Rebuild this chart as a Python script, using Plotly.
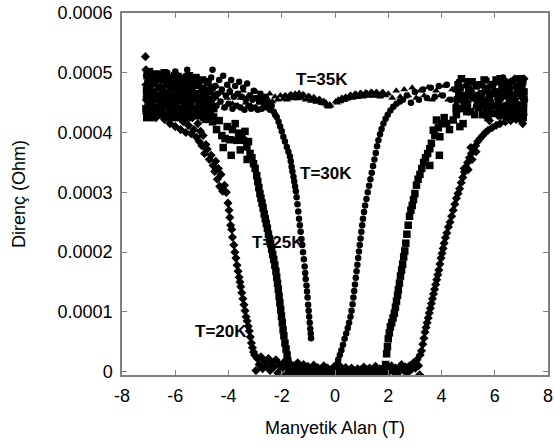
import plotly.graph_objects as go

UNIT = 1e-4

# T = 20 K (diamonds): (field T, resistance x1e-4 Ohm)
pts20 = [
    (-7.12, 5.27), (-7.10, 5.05), (-7.10, 4.80), (-7.09, 4.55), (-7.08, 4.32), (-7.06, 4.95),
    (-7.04, 4.68), (-7.02, 4.40), (-6.98, 4.85), (-6.95, 4.58), (-6.92, 4.30), (-6.88, 4.98),
    (-6.85, 4.70), (-6.80, 4.45), (-6.76, 4.88), (-6.72, 4.25), (-6.68, 4.62), (-6.64, 4.95),
    (-6.60, 4.38), (-6.55, 4.75), (-6.50, 4.52), (-6.45, 4.90), (-6.40, 4.22), (-6.35, 4.65),
    (-6.30, 4.42), (-6.25, 4.85), (-6.20, 4.15), (-6.15, 4.55), (-6.10, 4.35), (-6.05, 4.78),
    (-6.00, 4.10), (-5.95, 4.48), (-5.90, 4.28), (-5.85, 4.70), (-5.80, 4.05), (-5.75, 4.40),
    (-5.70, 4.18), (-5.65, 4.58), (-5.60, 4.00), (-5.55, 4.32), (-5.50, 4.12), (-5.45, 4.48),
    (-5.40, 3.98), (-5.35, 4.25), (-5.30, 4.05), (-5.25, 4.38), (-5.20, 3.92), (-5.15, 4.15),
    (-5.10, 3.85), (-5.05, 4.02), (-5.00, 3.78), (-4.95, 3.95), (-4.90, 3.65), (-4.85, 3.80),
    (-4.80, 3.72), (-4.72, 3.55), (-4.65, 3.62), (-4.58, 3.45), (-4.52, 3.35), (-4.48, 3.52),
    (-4.42, 3.22), (-4.38, 3.40), (-4.33, 3.10), (-4.28, 3.30), (-4.22, 3.02), (-4.15, 3.12),
    (-4.08, 3.00), (-4.02, 2.82), (-3.98, 2.70), (-3.95, 2.58), (-3.92, 2.45), (-3.88, 2.38),
    (-3.85, 2.25), (-3.80, 2.12), (-3.76, 2.00), (-3.72, 1.90), (-3.68, 1.78), (-3.64, 1.68),
    (-3.60, 1.58), (-3.57, 1.50), (-3.54, 1.42), (-3.50, 1.32), (-3.46, 1.22), (-3.42, 1.12),
    (-3.38, 1.02), (-3.34, 0.92), (-3.30, 0.85), (-3.26, 0.76), (-3.22, 0.68), (-3.18, 0.58),
    (-3.14, 0.48), (-3.10, 0.40), (-3.06, 0.33), (-3.02, 0.28), (-2.97, 0.02),
    (-2.92, 0.22), (-2.85, 0.12), (-2.78, 0.25), (-2.72, 0.05), (-2.65, 0.18), (-2.58, 0.10),
    (-2.50, 0.22), (-2.44, 0.02), (-2.38, 0.15), (-2.30, 0.08), (-2.22, 0.20), (-2.15, -0.02),
    (-2.08, 0.12), (-2.00, 0.05), (-1.92, 0.16), (-1.85, -0.05), (-1.78, 0.08), (-1.70, 0.14),
    (-1.62, 0.00), (-1.55, 0.10), (-1.48, 0.05), (-1.40, 0.15), (-1.32, -0.04), (-1.25, 0.07),
    (-1.18, 0.12), (-1.10, 0.02), (-1.02, 0.09), (-0.95, -0.06), (-0.88, 0.05), (-0.80, 0.11),
    (-0.72, 0.01), (-0.65, 0.07), (-0.58, -0.05), (-0.50, 0.04), (-0.42, 0.10), (-0.35, 0.00),
    (-0.28, 0.06), (-0.20, -0.04), (-0.12, 0.03), (-0.05, 0.08), (0.02, -0.02), (0.10, 0.05),
    (0.18, 0.10), (0.25, -0.06), (0.32, 0.03), (0.40, 0.07), (0.48, -0.08), (0.55, 0.02),
    (0.62, 0.06), (0.70, -0.07), (0.78, 0.00), (0.85, 0.05), (0.92, -0.05), (1.00, 0.03),
    (1.08, 0.08), (1.15, -0.04), (1.22, 0.02), (1.30, 0.06), (1.38, -0.03), (1.45, 0.04),
    (1.52, 0.09), (1.60, 0.00), (1.68, 0.05), (1.75, -0.04), (1.82, 0.03), (1.90, 0.08),
    (1.98, -0.02), (2.05, 0.04), (2.12, 0.10), (2.20, 0.00), (2.28, 0.06), (2.35, -0.03),
    (2.42, 0.05), (2.50, 0.12), (2.58, 0.02), (2.65, 0.08), (2.72, -0.02), (2.80, 0.10),
    (2.88, 0.04), (2.95, 0.15), (3.02, 0.06), (3.08, 0.20), (3.14, 0.10), (3.18, -0.05),
    (3.20, 0.28), (3.25, 0.35), (3.30, 0.46), (3.34, 0.56), (3.38, 0.66), (3.42, 0.74),
    (3.46, 0.82), (3.50, 0.90), (3.54, 0.98), (3.58, 1.06), (3.62, 1.14), (3.66, 1.22),
    (3.70, 1.30), (3.74, 1.38), (3.78, 1.46), (3.82, 1.54), (3.86, 1.62), (3.90, 1.70),
    (3.94, 1.80), (3.98, 1.90), (4.02, 1.98), (4.06, 2.06), (4.10, 2.15), (4.15, 2.24),
    (4.20, 2.32), (4.26, 2.42), (4.32, 2.50), (4.38, 2.60), (4.44, 2.70), (4.50, 2.80),
    (4.56, 2.90), (4.62, 2.98), (4.68, 3.06), (4.74, 3.16), (4.80, 3.25), (4.86, 3.34),
    (4.92, 3.42), (4.98, 3.50), (5.05, 3.58), (5.12, 3.65), (5.20, 3.72), (5.28, 3.78),
    (5.36, 3.85), (5.45, 3.90), (5.55, 3.95), (5.65, 4.00), (5.75, 4.04), (5.90, 4.08),
    (6.05, 4.12), (6.20, 4.15), (6.40, 4.18), (6.60, 4.20), (6.80, 4.22), (7.00, 4.20),
    (7.05, 4.15), (4.85, 3.40), (5.00, 3.38), (5.15, 3.55), (5.30, 3.68), (5.10, 3.75),
    (5.60, 4.30), (5.70, 4.55), (5.80, 4.20), (5.90, 4.45), (6.00, 4.70), (6.10, 4.30),
    (6.20, 4.55), (6.30, 4.82), (6.40, 4.35), (6.50, 4.60), (6.60, 4.85), (6.70, 4.40),
    (6.80, 4.65), (6.90, 4.88), (7.00, 4.45), (7.05, 4.70), (7.08, 4.30), (7.10, 4.90),
    (7.10, 4.55), (6.95, 4.25), (6.85, 4.35), (6.75, 4.90), (6.55, 4.25), (6.35, 4.70),
    (6.15, 4.85), (5.95, 4.80), (5.75, 4.75),
]

# T = 25 K (squares)
pts25 = [
    (-7.10, 4.40), (-7.08, 4.70), (-7.06, 4.95), (-7.04, 4.55), (-7.00, 4.30), (-6.95, 4.80),
    (-6.90, 4.50), (-6.85, 4.65), (-6.80, 4.35), (-6.75, 4.90), (-6.70, 4.60), (-6.65, 4.40),
    (-6.60, 4.75), (-6.55, 4.50), (-6.50, 4.95), (-6.45, 4.30), (-6.40, 4.65), (-6.35, 4.45),
    (-6.30, 4.85), (-6.25, 4.55), (-6.20, 4.35), (-6.15, 4.75), (-6.10, 4.50), (-6.05, 4.90),
    (-6.00, 4.40), (-5.95, 4.65), (-5.90, 4.30), (-5.85, 4.80), (-5.80, 4.55), (-5.75, 4.40),
    (-5.70, 4.70), (-5.65, 4.45), (-5.60, 4.88), (-5.55, 4.35), (-5.50, 4.60), (-5.45, 4.42),
    (-5.40, 4.75), (-5.35, 4.30), (-5.30, 4.55), (-5.25, 4.85), (-5.20, 4.40), (-5.15, 4.65),
    (-5.10, 4.28), (-5.05, 4.50), (-5.00, 4.72), (-4.95, 4.35), (-4.90, 4.58), (-4.85, 4.22),
    (-4.80, 4.45), (-4.75, 4.68), (-4.70, 4.30), (-4.65, 4.50), (-4.60, 4.18), (-4.55, 4.40),
    (-4.50, 4.62),
    (-7.07, 4.25), (-7.02, 4.62), (-6.97, 5.02), (-6.92, 4.42), (-6.87, 4.82), (-6.82, 4.25),
    (-6.77, 4.55), (-6.72, 4.98), (-6.67, 4.30), (-6.62, 4.62), (-6.57, 4.88), (-6.52, 4.38),
    (-6.47, 4.70), (-6.42, 5.00), (-6.37, 4.28), (-6.32, 4.58), (-6.27, 4.92), (-6.22, 4.45),
    (-6.17, 4.85), (-6.12, 4.25), (-6.07, 4.62), (-6.02, 4.95), (-5.97, 4.35), (-5.92, 4.58),
    (-5.87, 4.25), (-5.82, 4.90), (-5.77, 4.62), (-5.72, 4.30), (-5.67, 4.85), (-5.62, 4.52),
    (-5.57, 4.78), (-5.52, 4.25), (-5.47, 4.95), (-5.42, 4.55), (-5.37, 4.85), (-5.32, 4.40),
    (-5.27, 4.65), (-5.22, 4.92), (-5.17, 4.30), (-5.12, 4.80), (-5.07, 4.40), (-5.02, 4.60),
    (-4.97, 4.88), (-4.92, 4.25), (-4.87, 4.70), (-4.82, 4.35), (-4.77, 4.85), (-4.72, 4.55),
    (-4.67, 4.38), (-4.62, 4.75),
    (-4.56, 4.26), (-4.45, 4.05), (-4.35, 4.20), (-4.25, 3.95), (-4.13, 3.90),
    (-4.05, 4.10), (-3.95, 3.88), (-3.85, 4.05), (-3.75, 4.15), (-3.69, 3.87), (-3.62, 3.99),
    (-3.56, 3.71), (-3.50, 3.92), (-3.44, 3.87), (-3.38, 4.02), (-3.31, 3.76), (-3.25, 3.85),
    (-3.19, 3.65), (-3.12, 3.58), (-3.06, 3.48), (-3.00, 3.40), (-2.94, 3.28), (-2.90, 3.18),
    (-2.86, 3.08), (-2.82, 2.98), (-2.78, 2.90), (-2.74, 2.82), (-2.70, 2.74), (-2.66, 2.64),
    (-2.62, 2.56), (-2.58, 2.48), (-2.54, 2.40), (-2.50, 2.30), (-2.46, 2.22), (-2.42, 2.14),
    (-2.38, 2.05), (-2.34, 1.96), (-2.30, 1.88), (-2.26, 1.78), (-2.22, 1.68), (-2.19, 1.58),
    (-2.16, 1.48), (-2.13, 1.38), (-2.10, 1.26), (-2.07, 1.15), (-2.04, 1.04), (-2.01, 0.93),
    (-1.98, 0.82), (-1.95, 0.70), (-1.92, 0.60), (-1.88, 0.48), (-1.84, 0.38), (-1.80, 0.28),
    (-1.77, 0.18), (-1.74, 0.08), (-4.20, 3.75), (-3.90, 3.62), (-3.30, 3.55),
    (-1.70, 0.02), (-1.60, -0.05), (-1.50, 0.04), (-1.40, -0.08), (-1.30, 0.01), (-1.20, -0.04),
    (-1.10, 0.05), (-1.00, -0.07), (-0.90, 0.00), (-0.80, -0.05), (-0.70, 0.03), (-0.60, -0.09),
    (-0.50, -0.02), (-0.40, 0.04), (-0.30, -0.06), (-0.20, 0.01), (-0.10, -0.04), (0.00, 0.05),
    (0.10, -0.07), (0.20, -0.01), (0.30, 0.03), (0.40, -0.06), (0.50, 0.00), (0.60, -0.10),
    (0.70, -0.03), (0.80, 0.02), (0.90, -0.08), (1.00, -0.01), (1.10, 0.04), (1.20, -0.06),
    (1.30, 0.00), (1.40, -0.04), (1.50, 0.03), (1.60, -0.07), (1.70, 0.01), (1.80, -0.03),
    (1.86, 0.05), (1.90, 0.12), (1.94, 0.30), (1.97, 0.42), (2.00, 0.55), (2.04, 0.65),
    (2.08, 0.75), (2.13, 0.82), (2.18, 0.90), (2.23, 0.98), (2.27, 1.08), (2.31, 1.18),
    (2.35, 1.28), (2.38, 1.37), (2.42, 1.48), (2.46, 1.60), (2.50, 1.70), (2.54, 1.80),
    (2.58, 1.92), (2.62, 2.02), (2.66, 2.15), (2.70, 2.30), (2.75, 2.45), (2.80, 2.60),
    (2.85, 2.70), (2.90, 2.78), (2.95, 2.88), (3.00, 2.98), (3.06, 3.12), (3.12, 3.22),
    (3.19, 3.30), (3.26, 3.40), (3.33, 3.50), (3.40, 3.58), (3.48, 3.65), (3.56, 3.73),
    (3.62, 3.82), (3.69, 4.04), (3.75, 3.95), (3.81, 4.21), (3.88, 4.08), (3.94, 3.93),
    (4.00, 4.15), (4.10, 4.25), (4.19, 4.15), (4.30, 4.05), (4.44, 4.21), (4.56, 4.30),
    (4.69, 4.10), (4.81, 4.15), (3.92, 3.62), (3.56, 3.45),
    (4.60, 4.55), (4.70, 4.75), (4.80, 4.40), (4.90, 4.62), (5.00, 4.85), (5.10, 4.35),
    (5.20, 4.58), (5.30, 4.78), (5.40, 4.42), (5.50, 4.65), (5.60, 4.88), (5.70, 4.38),
    (5.80, 4.60), (5.90, 4.80), (6.00, 4.45), (6.10, 4.68), (6.20, 4.90), (6.30, 4.40),
    (6.40, 4.62), (6.50, 4.82), (6.60, 4.35), (6.70, 4.58), (6.80, 4.78), (6.90, 4.42),
    (7.00, 4.65), (7.05, 4.85), (7.08, 4.38), (7.10, 4.55), (6.95, 4.90), (6.75, 4.30),
    (6.55, 4.50), (6.35, 4.30), (6.15, 4.50), (5.95, 4.32), (5.75, 4.50), (5.55, 4.30),
    (4.55, 4.40), (4.65, 4.65), (4.75, 4.90), (4.85, 4.50), (4.95, 4.35), (5.05, 4.62),
    (5.15, 4.85), (5.25, 4.30), (5.35, 4.55), (5.45, 4.80), (5.55, 4.45), (5.65, 4.70),
    (5.75, 4.25), (5.85, 4.50), (5.95, 4.65), (6.05, 4.88), (6.15, 4.35), (6.25, 4.62),
    (6.35, 4.85), (6.45, 4.45), (6.55, 4.72), (6.65, 4.28), (6.75, 4.48), (6.85, 4.72),
    (6.95, 4.40), (7.02, 4.78), (7.07, 4.25), (7.10, 4.68), (6.62, 4.55), (6.22, 4.28),
    (5.82, 4.35), (5.42, 4.62), (5.02, 4.72), (4.62, 4.80),
]

# T = 30 K (circles)
pts30 = [
    (-7.10, 4.60), (-7.05, 4.85), (-7.00, 4.50), (-6.95, 4.72), (-6.90, 4.95), (-6.85, 4.40),
    (-6.80, 4.65), (-6.75, 4.85), (-6.70, 4.55), (-6.65, 4.75), (-6.60, 4.98), (-6.55, 4.45),
    (-6.50, 4.68), (-6.45, 4.90), (-6.40, 4.58), (-6.35, 4.80), (-6.30, 5.00), (-6.25, 4.50),
    (-6.20, 4.72), (-6.15, 4.92), (-6.10, 4.60), (-6.05, 4.82), (-6.00, 5.02), (-5.95, 4.55),
    (-5.90, 4.75), (-5.85, 4.95), (-5.80, 4.62), (-5.75, 4.85), (-5.70, 4.52), (-5.65, 4.72),
    (-5.60, 4.95), (-5.55, 5.05), (-5.50, 4.60), (-5.45, 4.80), (-5.40, 4.50), (-5.35, 4.70),
    (-5.30, 4.90), (-5.25, 4.58), (-5.20, 4.78), (-5.15, 4.45), (-5.10, 4.65), (-5.05, 4.88),
    (-5.00, 4.55), (-4.95, 4.75), (-4.90, 4.45), (-4.85, 4.62), (-4.80, 4.82), (-4.75, 4.50),
    (-4.70, 4.70), (-4.65, 4.92), (-4.60, 5.05), (-4.55, 4.58), (-4.50, 4.78), (-4.45, 4.45),
    (-4.40, 4.65), (-4.35, 4.88), (-4.30, 4.52), (-4.25, 4.72), (-4.20, 4.95), (-4.15, 4.42),
    (-4.10, 4.62), (-4.05, 4.80), (-4.00, 4.48), (-3.95, 4.68), (-3.90, 4.88), (-3.85, 4.40),
    (-3.80, 4.60), (-3.75, 4.78), (-3.70, 4.45), (-3.65, 4.65), (-3.60, 4.85), (-3.55, 4.42),
    (-3.50, 4.60), (-3.45, 4.75), (-3.40, 4.38), (-3.35, 4.55), (-3.30, 4.82), (-3.25, 4.45),
    (-3.20, 4.62), (-3.15, 4.40), (-3.10, 4.55), (-3.05, 4.70), (-3.00, 4.42), (-2.95, 4.58),
    (-2.90, 4.38), (-2.85, 4.52), (-2.80, 4.65), (-2.75, 4.40), (-2.70, 4.55), (-2.65, 4.45),
    (-2.60, 4.60), (-2.55, 4.42), (-2.50, 4.50), (-2.44, 4.38), (-2.38, 4.45),
    (-2.30, 4.35), (-2.25, 4.30), (-2.19, 4.26), (-2.12, 4.18), (-2.06, 4.10), (-2.00, 4.02),
    (-1.94, 3.93), (-1.88, 3.85), (-1.81, 3.76), (-1.75, 3.68), (-1.69, 3.60), (-1.66, 3.52),
    (-1.63, 3.43), (-1.60, 3.35), (-1.56, 3.26), (-1.53, 3.18), (-1.50, 3.10), (-1.47, 3.02),
    (-1.44, 2.92), (-1.41, 2.80), (-1.38, 2.68), (-1.35, 2.56), (-1.32, 2.45), (-1.29, 2.34),
    (-1.26, 2.22), (-1.23, 2.12), (-1.20, 2.00), (-1.17, 1.88), (-1.14, 1.76), (-1.12, 1.65),
    (-1.10, 1.55), (-1.07, 1.44), (-1.05, 1.34), (-1.03, 1.24), (-1.01, 1.12), (-0.99, 1.02),
    (-0.97, 0.92), (-0.95, 0.82), (-0.93, 0.72), (-0.91, 0.64), (-0.90, 0.56),
    (0.00, 0.04), (0.06, 0.12), (0.12, 0.20), (0.18, 0.28), (0.24, 0.36), (0.30, 0.45),
    (0.36, 0.55), (0.42, 0.64), (0.48, 0.73), (0.53, 0.82), (0.58, 0.92), (0.62, 1.02),
    (0.66, 1.13), (0.69, 1.24), (0.72, 1.35), (0.75, 1.46), (0.78, 1.57), (0.81, 1.68),
    (0.84, 1.79), (0.87, 1.90), (0.90, 2.01), (0.93, 2.12), (0.96, 2.23), (0.99, 2.34),
    (1.02, 2.45), (1.05, 2.56), (1.09, 2.67), (1.13, 2.78), (1.18, 2.89), (1.23, 3.00),
    (1.28, 3.11), (1.33, 3.22), (1.38, 3.33), (1.43, 3.44), (1.48, 3.55), (1.53, 3.66),
    (1.58, 3.77), (1.63, 3.87), (1.69, 3.97), (1.75, 4.06), (1.82, 4.15), (1.90, 4.23),
    (1.98, 4.30), (2.08, 4.37), (2.19, 4.43), (2.31, 4.48), (2.44, 4.52),
    (2.55, 4.55), (2.70, 4.62), (2.85, 4.50), (3.00, 4.68), (3.15, 4.55), (3.30, 4.72),
    (3.45, 4.58), (3.60, 4.75), (3.75, 4.60), (3.90, 4.78), (4.05, 4.62), (4.20, 4.80),
    (4.35, 4.55), (4.50, 4.72), (4.65, 4.85), (4.80, 4.60), (4.95, 4.78), (5.06, 4.86),
    (5.20, 4.62), (5.35, 4.80), (5.50, 4.55), (5.69, 4.88), (5.80, 4.65), (5.95, 4.82),
    (6.10, 4.58), (6.25, 4.75), (6.31, 4.92), (6.45, 4.62), (6.60, 4.85), (6.75, 4.55),
    (6.90, 4.78), (7.06, 4.86), (7.08, 4.60), (7.10, 4.45), (7.00, 4.70), (6.85, 4.48),
    (6.50, 4.45), (6.20, 4.45), (5.90, 4.45), (5.60, 4.42), (5.30, 4.45), (5.00, 4.45),
]

# T = 35 K (triangles)
pts35 = [
    (-7.10, 4.45), (-7.05, 4.65), (-7.00, 4.80), (-6.95, 4.50), (-6.85, 4.70), (-6.75, 4.42),
    (-6.65, 4.60), (-6.55, 4.78), (-6.45, 4.48), (-6.35, 4.68), (-6.25, 4.40), (-6.15, 4.58),
    (-6.05, 4.75), (-5.95, 4.45), (-5.85, 4.62), (-5.75, 4.80), (-5.65, 4.50), (-5.55, 4.68),
    (-5.45, 4.42), (-5.35, 4.60), (-5.25, 4.76), (-5.15, 4.48), (-5.05, 4.65), (-4.95, 4.40),
    (-4.85, 4.58), (-4.75, 4.72), (-4.65, 4.45), (-4.55, 4.62), (-4.45, 4.78), (-4.35, 4.50),
    (-4.25, 4.66), (-4.15, 4.42), (-4.05, 4.58), (-3.95, 4.72), (-3.85, 4.48), (-3.75, 4.62),
    (-3.65, 4.45), (-3.55, 4.58), (-3.45, 4.70), (-3.35, 4.50), (-3.25, 4.62), (-3.15, 4.45),
    (-3.05, 4.58), (-2.95, 4.68), (-2.85, 4.50), (-2.75, 4.60), (-2.65, 4.48), (-2.55, 4.58),
    (-2.45, 4.65), (-2.35, 4.52), (-2.25, 4.60), (-2.15, 4.55), (-2.05, 4.62),
    (-1.95, 4.56), (-1.90, 4.61), (-1.85, 4.62), (-1.80, 4.55), (-1.75, 4.58), (-1.70, 4.63),
    (-1.65, 4.64), (-1.60, 4.59), (-1.55, 4.57), (-1.50, 4.65), (-1.45, 4.62), (-1.40, 4.57),
    (-1.35, 4.66), (-1.30, 4.60), (-1.25, 4.58), (-1.20, 4.64), (-1.15, 4.62), (-1.10, 4.55),
    (-1.05, 4.56), (-1.00, 4.61), (-0.95, 4.60), (-0.90, 4.53), (-0.85, 4.54), (-0.80, 4.59),
    (-0.75, 4.57), (-0.70, 4.51), (-0.65, 4.52), (-0.60, 4.56), (-0.55, 4.55), (-0.50, 4.49),
    (-0.45, 4.50), (-0.42, 4.53), (-0.38, 4.48), (-0.34, 4.50), (-0.30, 4.46), (-0.27, 4.44),
    (-0.24, 4.43), (-0.20, 4.47), (-0.17, 4.45),
    (0.03, 4.52), (0.08, 4.50), (0.12, 4.55), (0.16, 4.53), (0.20, 4.52), (0.25, 4.58),
    (0.30, 4.57), (0.35, 4.54), (0.40, 4.60), (0.45, 4.56), (0.50, 4.58), (0.55, 4.62),
    (0.60, 4.63), (0.65, 4.58), (0.70, 4.60), (0.75, 4.65), (0.80, 4.64), (0.85, 4.59),
    (0.90, 4.61), (0.95, 4.66), (1.00, 4.65), (1.05, 4.60), (1.10, 4.62), (1.15, 4.67),
    (1.20, 4.66), (1.25, 4.61), (1.30, 4.63), (1.35, 4.68), (1.40, 4.67), (1.45, 4.61),
    (1.50, 4.62), (1.55, 4.68), (1.60, 4.66), (1.65, 4.62), (1.70, 4.60), (1.75, 4.66),
    (1.80, 4.68), (1.85, 4.63), (1.90, 4.62),
    (2.00, 4.65), (2.15, 4.58), (2.30, 4.70), (2.45, 4.60), (2.60, 4.72), (2.75, 4.62),
    (2.90, 4.75), (3.05, 4.58), (3.20, 4.70), (3.35, 4.62), (3.50, 4.76), (3.65, 4.55),
    (3.80, 4.70), (3.95, 4.62), (4.10, 4.78), (4.25, 4.55), (4.40, 4.72), (4.55, 4.48),
    (4.70, 4.65), (4.85, 4.78), (5.00, 4.52), (5.15, 4.70), (5.30, 4.45), (5.45, 4.62),
    (5.60, 4.78), (5.75, 4.50), (5.90, 4.68), (6.05, 4.42), (6.20, 4.60), (6.35, 4.76),
    (6.50, 4.48), (6.65, 4.65), (6.80, 4.40), (6.95, 4.58), (7.05, 4.72), (7.10, 4.48),
]

series_labels = ["T=20K", "T=25K", "T=30K", "T=35K"]
x_ticks = [-8, -6, -4, -2, 0, 2, 4, 6, 8]
y_tick_vals = [0, 0.0001, 0.0002, 0.0003, 0.0004, 0.0005, 0.0006]
y_tick_text = ["0", "0.0001", "0.0002", "0.0003", "0.0004", "0.0005", "0.0006"]

FONT = "Liberation Sans, Arial, sans-serif"

fig = go.Figure()
styles = [
    (pts20, "diamond", 7.0),
    (pts25, "square", 7.5),
    (pts30, "circle", 6.5),
    (pts35, "triangle-up", 7.0),
]
for (pts, sym, size), name in zip(styles, series_labels):
    fig.add_trace(go.Scatter(
        x=[p[0] for p in pts],
        y=[p[1] * UNIT for p in pts],
        mode="markers",
        name=name,
        marker=dict(symbol=sym, size=size, color="black", line=dict(width=0)),
        showlegend=False,
        hoverinfo="skip",
    ))

label_pos = [(-4.3, 0.68), (-2.15, 2.16), (-0.32, 3.32), (-0.5, 4.88)]
for text, (lx, ly) in zip(series_labels, label_pos):
    fig.add_annotation(x=lx, y=ly * UNIT, text="<b>%s</b>" % text, showarrow=False,
                       font=dict(family=FONT, size=17, color="black"))

axis_common = dict(
    showline=True, linecolor="#808080", linewidth=1.5, mirror="ticks",
    ticks="inside", ticklen=5, tickcolor="#808080", tickwidth=1,
    showgrid=False, zeroline=False, automargin=False,
    tickfont=dict(family=FONT, size=18, color="black"),
)

fig.update_layout(
    width=554, height=446,
    margin=dict(l=122, r=6, t=13, b=71),
    paper_bgcolor="white", plot_bgcolor="white",
    font=dict(family=FONT, size=18, color="black"),
    xaxis=dict(range=[-8, 8], tickvals=x_ticks, ticktext=[str(v) for v in x_ticks],
               ticklabelstandoff=4,
               title=dict(text="Manyetik Alan (T)", font=dict(family=FONT, size=18), standoff=16),
               **axis_common),
    yaxis=dict(range=[-0.0000055, 0.0006], tickvals=y_tick_vals, ticktext=y_tick_text,
               ticklabelstandoff=4,
               title=dict(text="Direnç (Ohm)", font=dict(family=FONT, size=18), standoff=27),
               **axis_common),
)

fig.write_html("out.html")
